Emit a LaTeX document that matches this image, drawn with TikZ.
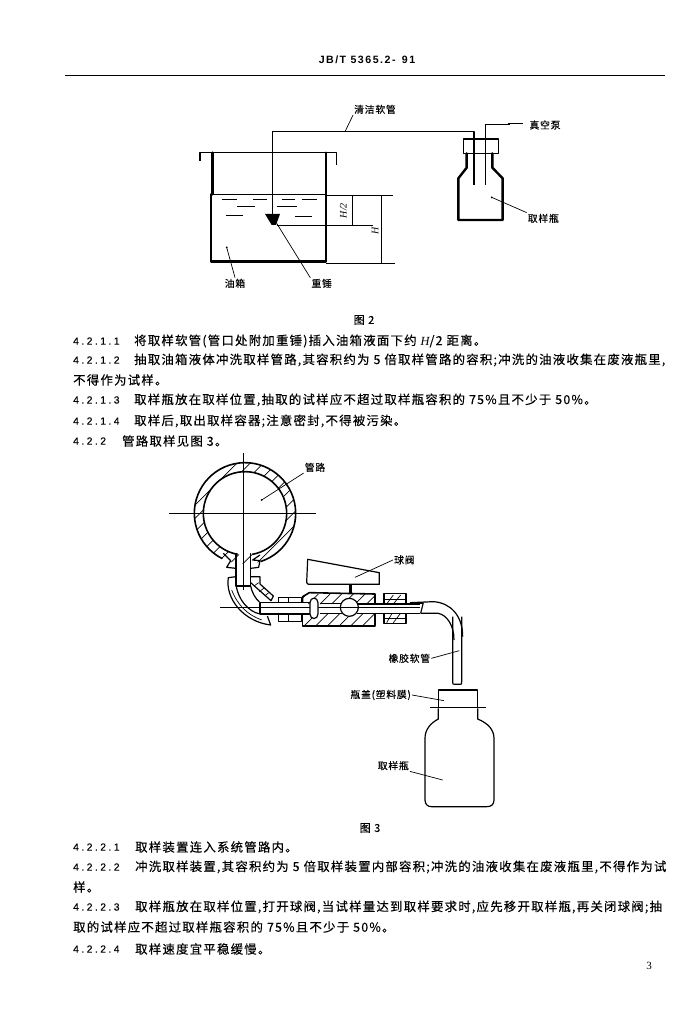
\documentclass[tikz,border=0pt]{standalone}
\usepackage{fontspec}
\setmainfont{Liberation Serif}
\newfontfamily\cjk[LetterSpace=10,FakeBold=0.3]{Noto Sans CJK SC}
\newfontfamily\cjklab[LetterSpace=8,FakeBold=0.3]{Noto Sans CJK SC}
\newfontfamily\numf[LetterSpace=24,FakeBold=0.3]{Liberation Sans}
\newfontfamily\hdrf[LetterSpace=14]{Liberation Sans Bold}
\usetikzlibrary{calc}
\tikzset{
  bodytext/.style={anchor=west,inner sep=0pt,font=\fontsize{12.4}{12}\selectfont\cjk},
  numtext/.style={anchor=west,inner sep=0pt,font=\fontsize{10.3}{12}\selectfont\numf},
  lab/.style={inner sep=1pt,font=\fontsize{9.8}{10}\selectfont\cjklab},
  leader/.style={line width=0.7pt},
  wall/.style={line width=2.4pt,line cap=round,line join=round},
  heavy/.style={line width=1.6pt,line join=round},
  fine/.style={line width=0.8pt},
  med/.style={line width=1.2pt,line join=round},
  hatchl/.style={line width=0.7pt},
  zoomA/.style={shift={(180,90)},x=0.33333pt,y=-0.33333pt},
  zoomB/.style={shift={(160,450)},x=0.33333pt,y=-0.33333pt},
  zoomC/.style={shift={(340,640)},x=0.33333pt,y=-0.33333pt},
}
\begin{document}
\begin{tikzpicture}[x=1pt,y=-1pt]
\useasboundingbox (0,0) rectangle (696,1024);
\fill[white] (0,0) rectangle (696,1024);
% header
\node[inner sep=0pt,font=\fontsize{10.6}{12}\selectfont\hdrf] (hdr) at (367,60) {JB/T 5365.2\,-\, 91};
\coordinate (ruleL) at (65,75); \coordinate (ruleR) at (665,75);
\draw[line width=0.9pt] (ruleL) -- (ruleR);

% ---------- Figure 2
\begin{scope}[zoomA]
 % tank
 \draw[med] (60,212) -- (60,188) -- (470,188) -- (470,226);
 \draw[wall] (97,188) -- (97,313);
 \draw[wall] (93,313) -- (93,514) -- (438,514) -- (438,188);
 \draw[med] (93,313) -- (438,313);
 % dimension lines
 \draw[fine] (438,317) -- (638,317);
 \draw[fine] (438,520) -- (645,520);
 \draw[fine] (290,407) -- (580,407);
 \draw[med] (517,317) -- (517,407);
 \draw[fine] (605,317) -- (605,520);
 \node[inner sep=0pt,rotate=90,font=\fontsize{10}{10}\selectfont\itshape] (hh) at (490,362) {H/2};
 \node[inner sep=0pt,rotate=90,font=\fontsize{10}{10}\selectfont\itshape] (hf) at (585,422) {H};
 % liquid dashes
 \foreach \a/\b/\y in {125/170/327,220/260/327,305/345/327,365/410/327,172/225/350,290/350/350,137/190/376,345/395/378}
   \draw[fine] (\a,\y) -- (\b,\y);
 % hose
 \draw[med] (277,375) -- (277,125) -- (882,125) -- (882,285);
 \fill (255,372) -- (300,372) -- (288,405) -- (275,405) -- cycle;
 % second tube
 \draw[fine] (915,285) -- (915,102);
 \draw[fine] (915,102) -- (990,102);
 \draw[line width=1.4pt] (985,100) -- (1030,100);
 % bottle cap
 \draw[med] (850,147) rectangle (955,190);
 % bottle
 \draw[wall] (860,190) -- (860,233) -- (835,265) -- (835,390) -- (968,390) -- (968,265) -- (937,233) -- (937,190);
 % labels
 \node[lab] (lhose) at (585,58) {清洁软管};
 \node[lab] (lpump) at (1095,105) {真空泵};
 \node[lab] (lbot) at (1090,385) {取样瓶};
 \node[lab] (ltank) at (165,580) {油箱};
 \node[lab] (lwt) at (425,580) {重锤};
 \coordinate (phose) at (495,125);
 \coordinate (pbot) at (935,322);
 \coordinate (ptank) at (140,472);
 \coordinate (pwt) at (290,400);
 \draw[leader] (lhose.south west) -- (phose);
 \draw[leader] (lbot.north west) -- (pbot);
 \fill (pbot) circle[radius=3];
 \draw[leader] (ltank.north) -- (ptank);
 \fill (ptank) circle[radius=3];
 \draw[leader] (lwt.north west) -- (pwt);
\end{scope}
\node[inner sep=0pt,font=\fontsize{11}{12}\selectfont\cjk] (cap2) at (364,320) {图 2};

% ---------- text block 1
\node[bodytext] (ta) at (134,341) {将取样软管(管口处附加重锤)插入油箱液面下约 {\itshape\rmfamily H}/2 距离。};
\node[bodytext] (tb) at (134,360) {抽取油箱液体冲洗取样管路,其容积约为 5 倍取样管路的容积;冲洗的油液收集在废液瓶里,};
\node[bodytext] (td) at (134,400) {取样瓶放在取样位置,抽取的试样应不超过取样瓶容积的 75\%且不少于 50\%。};
\node[bodytext] (te) at (134,421) {取样后,取出取样容器;注意密封,不得被污染。};
\node[numtext] (na) at (73,341) {4.2.1.1};
\node[numtext] (nb) at (73,360) {4.2.1.2};
\node[bodytext] (tc) at (73,380) {不得作为试样。};
\node[numtext] (nd) at (73,400) {4.2.1.3};
\node[numtext] (ne) at (73,421) {4.2.1.4};
\node[numtext] (nf) at (73,441) {4.2.2};
\node[bodytext] (tf) at (122,441) {管路取样见图 3。};

% ---------- Figure 3
\begin{scope}[zoomB]
 % ring hatching
 \begin{scope}[even odd rule]
  \clip (255,190) circle[radius=152] (255,190) circle[radius=125];
  \foreach \k in {-200,-160,...,520}
    \draw[hatchl] (\k,350) -- (\k+330,20);
 \end{scope}
 \draw[heavy] (255,190) ++(72:152) arc[start angle=72,end angle=-243.4,radius=152];
 \draw[heavy] (255,190) ++(80:125) arc[start angle=80,end angle=-260,radius=125];
 % centre lines
 \draw[fine] (27,190) -- (468,190);
 \draw[fine] (250,10) -- (250,420);
 \draw[fine] (180,472) -- (780,472);
 % stem and boss
 \draw[med] (228,308) -- (228,408) -- (272,408) -- (272,308);
 \draw[med] (190,310) -- (212,332) -- (200,352) -- (228,355);
 \draw[med] (300,315) -- (278,330) -- (300,332) -- (296,352) -- (272,355);
 % elbow
 \draw[med] (228,380) -- (205,383) .. controls (195,445) and (250,515) .. (332,525) -- (322,498);
 \draw[med] (228,405) .. controls (235,450) and (265,485) .. (300,492);
 \draw[med] (272,408) .. controls (275,425) and (285,445) .. (300,458);
 \draw[med] (272,380) -- (300,380) -- (300,402) -- (340,438) -- (333,452) -- (272,398);
 \draw[hatchl] (215,420) .. controls (235,470) and (265,495) .. (305,510);
 \foreach \a/\b/\c/\d in {282/408/296/398, 298/425/312/414, 314/438/326/428}
   \draw[hatchl] (\a,\b) -- (\c,\d);
 % tube
 \draw[med] (300,458) -- (450,458) (300,492) -- (450,492) (300,458) -- (300,492);
 % left nut
 \draw[med] (355,458) -- (355,442) -- (425,442) -- (425,458);
 \draw[med] (355,492) -- (355,515) -- (425,515) -- (425,492);
 \draw[med] (385,442) -- (385,458) (385,492) -- (385,515);
 % valve body
 \begin{scope}
  \clip (428,432) -- (645,432) -- (645,528) -- (428,528) -- cycle;
  \foreach \k in {440,475,...,720}
    \draw[hatchl] (\k,432) -- (\k-30,462);
  \foreach \k in {470,505,...,720}
    \draw[hatchl] (\k,490) -- (\k-40,530);
 \end{scope}
 \draw[heavy] (428,458) -- (428,440) -- (448,428) -- (645,432) -- (645,462);
 \draw[heavy] (428,492) -- (428,528) -- (645,528) -- (645,490);
 % channel
 \draw[med] (480,460) -- (545,460) (480,490) -- (545,490);
 \draw[med] (590,462) -- (780,462) (590,490) -- (780,490);
 \draw[med,fill=white] (450,458) .. controls (450,440) and (474,440) .. (474,458) -- (474,492) .. controls (474,510) and (450,510) .. (450,492) -- cycle;
 % ball
 \draw[med,fill=white] (568,472) circle[radius=27];
 \draw[fine] (541,472) -- (595,472);
 % right nut
 \draw[med] (672,462) -- (672,430) -- (738,430) -- (738,462);
 \draw[med] (672,490) -- (672,520) -- (738,520) -- (738,490);
 \draw[med] (672,448) -- (738,448) (672,505) -- (738,505);
 \foreach \a/\b/\c/\d in {680/462/700/435, 700/462/722/435, 680/518/695/492, 700/518/720/492}
   \draw[hatchl] (\a,\b) -- (\c,\d);
 % handle
 \draw[med] (443,328) -- (658,368) -- (658,403) -- (445,403) -- (440,398) -- cycle;
 \fill (566,403) rectangle (577,432);
 % rubber tube
 \draw[med] (750,458) -- (820,455) .. controls (870,458) and (908,495) .. (908,560);
 \draw[med] (782,490) -- (835,490) .. controls (860,495) and (882,525) .. (882,570);
 \draw[line width=2pt] (752,458) -- (790,458);
 \draw[med] (790,458) -- (782,490);
 % labels
 \node[lab] (lpipe) at (465,52) {管路};
 \node[lab] (lvalve) at (733,330) {球阀};
 \coordinate (ppipe) at (305,150);
 \coordinate (pvalve) at (585,382);
 \draw[leader] (lpipe.south west) -- (ppipe);
 \fill (ppipe) circle[radius=3];
 \draw[leader] (lvalve.west) -- (pvalve);
\end{scope}

\begin{scope}[zoomC]
 % tube lower end
 \draw[med] (338,-70) -- (338,125) .. controls (338,133) .. (345,133) -- (358,133) .. controls (365,133) .. (365,125) -- (365,-70);
 % cap
 \draw[med] (295,203) -- (295,150) -- (413,150) -- (413,203);
 \draw[med] (270,203) -- (437,203);
 % bottle
 \draw[med] (295,205) -- (295,237) .. controls (270,250) and (255,270) .. (255,295) -- (255,480) .. controls (255,495) and (265,500) .. (275,500) -- (440,500) .. controls (452,500) and (462,495) .. (462,480) -- (462,295) .. controls (462,270) and (445,250) .. (413,237) -- (413,205);
 \node[lab] (lrub) at (208,55) {橡胶软管};
 \node[lab] (lcap) at (122,165) {瓶盖(塑料膜)};
 \node[lab] (lsb) at (160,377) {取样瓶};
 \coordinate (prub) at (358,32);
 \coordinate (pcap) at (312,182);
 \coordinate (psb) at (308,420);
 \draw[leader] (lrub.east) -- (prub);
 \draw[leader] (lcap.east) -- (pcap);
 \draw[leader] (lsb.south east) -- (psb);
\end{scope}
\node[inner sep=0pt,font=\fontsize{11}{12}\selectfont\cjk] (cap3) at (370,828) {图 3};

% ---------- text block 2
\node[numtext] (ng) at (73,847) {4.2.2.1};
\node[bodytext] (tg) at (135,847) {取样装置连入系统管路内。};
\node[numtext] (nh) at (73,867) {4.2.2.2};
\node[bodytext] (th) at (135,867) {冲洗取样装置,其容积约为 5 倍取样装置内部容积;冲洗的油液收集在废液瓶里,不得作为试};
\node[bodytext] (ti) at (73,887) {样。};
\node[numtext] (nj) at (73,907) {4.2.2.3};
\node[bodytext] (tj) at (135,907) {取样瓶放在取样位置,打开球阀,当试样量达到取样要求时,应先移开取样瓶,再关闭球阀;抽};
\node[bodytext] (tk) at (73,927) {取的试样应不超过取样瓶容积的 75\%且不少于 50\%。};
\node[numtext] (nl) at (73,949) {4.2.2.4};
\node[bodytext] (tl) at (135,949) {取样速度宜平稳缓慢。};
\node[inner sep=0pt,font=\fontsize{11}{12}\selectfont] (pg) at (649,966) {3};
\end{tikzpicture}
\end{document}
